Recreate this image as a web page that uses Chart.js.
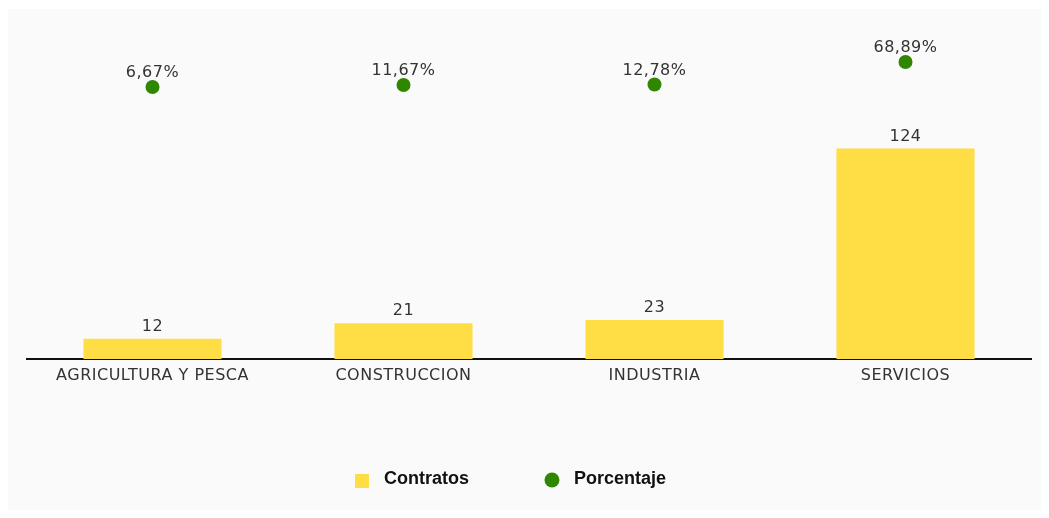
<!DOCTYPE html>
<html>
<head>
<meta charset="utf-8">
<script src="https://cdn.jsdelivr.net/npm/chart.js@4"></script>
<style>
	body { margin: 0; background: #ffffff; }
	#caja { position: absolute; left: 8px; top: 9px; width: 1033px; height: 501px; background: #fafafa; }
</style>
</head>
<body>
<div id="caja"><canvas id="contratosChart" width="1033" height="501"></canvas></div>
<script>
// datos
const sectores = ['AGRICULTURA Y PESCA', 'CONSTRUCCION', 'INDUSTRIA', 'SERVICIOS'];
const contratos = [12, 21, 23, 124];
const porcentaje = [6.67, 11.67, 12.78, 68.89];

const colorBarra = '#ffdd44';
const colorPunto = '#2f8700';

// espaciado de letras para todo el texto del grafico
const espaciado = {
	id: 'espaciado',
	beforeDraw(chart) {
		chart.ctx.letterSpacing = '0.5px';
	}
};

// etiquetas encima de barras y puntos
const etiquetasValores = {
	id: 'etiquetasValores',
	afterDatasetsDraw(chart) {
		const ctx = chart.ctx;
		ctx.save();
		ctx.letterSpacing = '0.5px';
		ctx.fillStyle = '#333333';
		ctx.textAlign = 'center';
		ctx.textBaseline = 'alphabetic';
		ctx.font = '16px "DejaVu Sans"';
		chart.data.datasets.forEach(function (ds, i) {
			const meta = chart.getDatasetMeta(i);
			meta.data.forEach(function (el, j) {
				const v = ds.data[j];
				if (ds.type === 'line') {
					ctx.fillText(v.toFixed(2).replace('.', ',') + '%', el.x, el.y - 10);
				} else {
					ctx.fillText(String(v), el.x, el.y - 8);
				}
			});
		});
		ctx.restore();
	}
};

// leyenda propia (cuadro / circulo)
const leyenda = {
	id: 'leyenda',
	afterDraw(chart) {
		const ctx = chart.ctx;
		const y = 470;
		const gap = 76;
		ctx.save();
		ctx.letterSpacing = '0px';
		ctx.font = 'bold 18px "Liberation Sans"';
		ctx.textBaseline = 'middle';
		const items = chart.data.datasets.map(function (ds) {
			return { ds: ds, w: 14 + 15 + ctx.measureText(ds.label).width };
		});
		const total = items.reduce((a, b) => a + b.w, 0) + gap * (items.length - 1);
		let x = chart.width / 2 - 14 - total / 2;
		items.forEach(function (it) {
			ctx.fillStyle = it.ds.backgroundColor;
			if (it.ds.type === 'line') {
				ctx.beginPath();
				ctx.arc(x + 7, y + 1, 7.5, 0, Math.PI * 2);
				ctx.fill();
			} else {
				ctx.fillRect(x, y - 5, 14, 14);
			}
			ctx.fillStyle = '#111111';
			ctx.fillText(it.ds.label, x + 29, y);
			x += it.w + gap;
		});
		ctx.restore();
	}
};

const ctx = document.getElementById('contratosChart').getContext('2d');

new Chart(ctx, {
	type: 'bar',
	data: {
		labels: sectores,
		datasets: [
			{
				type: 'bar',
				label: 'Contratos',
				data: contratos,
				yAxisID: 'y',
				backgroundColor: colorBarra,
				categoryPercentage: 1,
				barPercentage: 0.55,
				order: 1
			},
			{
				type: 'line',
				label: 'Porcentaje',
				data: porcentaje,
				yAxisID: 'y2',
				showLine: false,
				backgroundColor: colorPunto,
				borderColor: colorPunto,
				pointRadius: 7,
				pointHoverRadius: 7,
				pointBorderWidth: 0,
				order: 0
			}
		]
	},
	options: {
		responsive: false,
		animation: false,
		layout: {
			padding: { left: 19, right: 10, top: 31, bottom: 0 }
		},
		plugins: {
			legend: { display: false },
			tooltip: { enabled: false }
		},
		scales: {
			x: {
				grid: { display: false, drawTicks: false },
				border: { display: true, color: '#111111', width: 2 },
				ticks: {
					color: '#333333',
					font: { family: 'DejaVu Sans', size: 16 },
					padding: 7,
					maxRotation: 0
				},
				afterFit: function (s) { s.height = 151; }
			},
			y: {
				display: false,
				min: 0,
				max: 188
			},
			y2: {
				display: false,
				min: -670,
				max: 123.6
			}
		}
	},
	plugins: [espaciado, etiquetasValores, leyenda]
});
</script>
</body>
</html>
